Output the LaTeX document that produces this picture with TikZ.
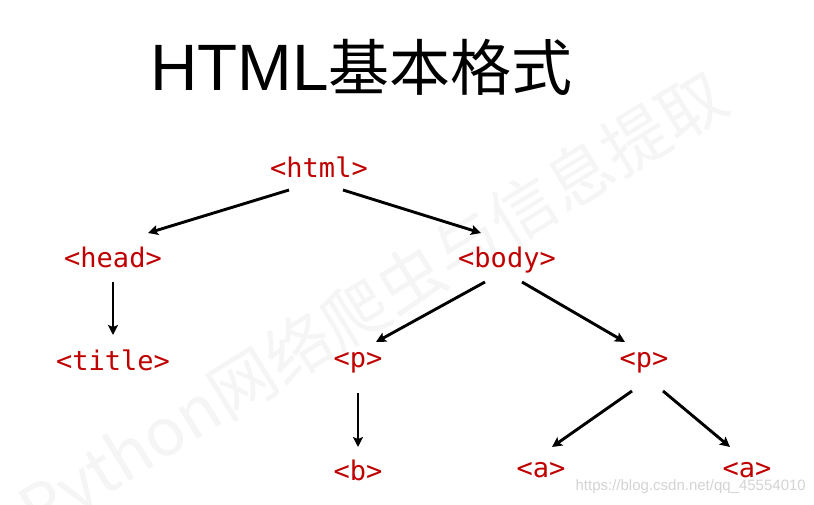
\documentclass[tikz,border=0pt]{standalone}
\usepackage{fontspec}
\setmainfont{Liberation Sans}
\newfontfamily\cjk{Noto Sans CJK SC}
\newfontfamily\codefont{DejaVu Sans Mono}
\usetikzlibrary{arrows.meta}
\definecolor{tagred}{HTML}{C00000}
\definecolor{wmgray}{HTML}{D4D4D4}
\definecolor{faintgray}{HTML}{F5F5F5}
\tikzset{
  tag/.style={anchor=base, inner sep=0pt, text=tagred, font=\codefont\fontsize{27}{30}\selectfont},
  arr/.style={draw=black, line width=2.9pt, -{Stealth[length=10pt,width=10pt,inset=2pt]}}
}
\begin{document}
\begin{tikzpicture}[x=1pt,y=-1pt]
\useasboundingbox (0,0) rectangle (814,504);
\fill[white] (0,0) rectangle (814,504);
% faint diagonal watermark
\node[anchor=east, rotate=31.7, inner sep=0pt, text=faintgray, font=\cjk\fontsize{66}{70}\selectfont] (wm) at (722,92) {Python网络爬虫与信息提取};
% title
\node[anchor=base west, inner sep=0pt, font=\fontsize{65.6}{70}\selectfont] (title) at (150,90) {HTML{\cjk\fontsize{61}{70}\selectfont 基本格式}};
% tags
\node[tag] (html) at (319,177) {<html>};
\node[tag] (head) at (113,267) {<head>};
\node[tag] (body) at (507,267) {<body>};
\node[tag] (ttl) at (113,370) {<title>};
\node[tag] (pL) at (358,367) {<p>};
\node[tag] (pR) at (644,367) {<p>};
\node[tag] (b) at (358,480) {<b>};
\node[tag] (aL) at (541,477) {<a>};
\node[tag] (aR) at (747,477) {<a>};
% arrows
\draw[arr] ([shift={(-30,13)}]html.base) -- ([shift={(35,-34)}]head.base);
\draw[arr] ([shift={(24,13)}]html.base) -- ([shift={(-26,-34)}]body.base);
\draw[arr] ([shift={(0,15)}]head.base) -- ([shift={(0,-35)}]ttl.base);
\draw[arr] ([shift={(-22,15)}]body.base) -- ([shift={(18,-25)}]pL.base);
\draw[arr] ([shift={(15,15)}]body.base) -- ([shift={(-19,-25)}]pR.base);
\draw[arr] ([shift={(0,26)}]pL.base) -- ([shift={(0,-33)}]b.base);
\draw[arr] ([shift={(-12,24)}]pR.base) -- ([shift={(11,-30)}]aL.base);
\draw[arr] ([shift={(19,24)}]pR.base) -- ([shift={(-17,-30)}]aR.base);
% csdn watermark
\node[anchor=base east, inner sep=0pt, text=wmgray, font=\fontsize{15}{16}\selectfont] (url) at (806,490) {https://blog.csdn.net/qq\_45554010};
\end{tikzpicture}
\end{document}
